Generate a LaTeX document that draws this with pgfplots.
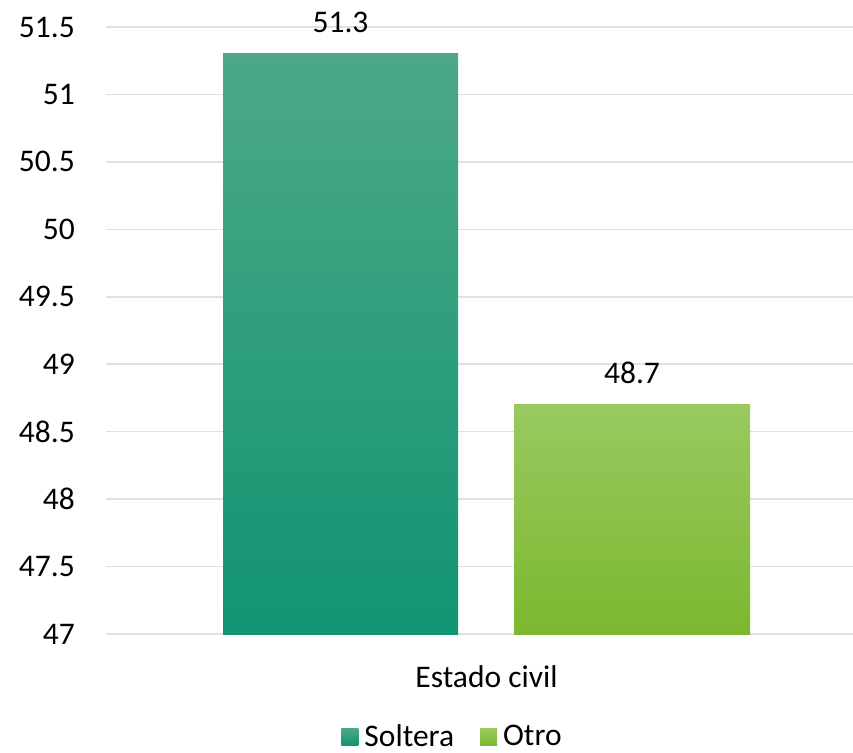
\documentclass[border=0pt]{standalone}
\usepackage{pgfplots}
\pgfplotsset{compat=1.18}
\usepackage{fontspec}
\setmainfont{Carlito}
\definecolor{sTop}{HTML}{4CA887}
\definecolor{sBot}{HTML}{119472}
\definecolor{oTop}{HTML}{99C960}
\definecolor{oBot}{HTML}{7CB82F}
\definecolor{gridc}{HTML}{DEE2E8}
\newcommand{\bigf}{\fontsize{31.5bp}{38bp}\selectfont}
\begin{document}
\begin{tikzpicture}[font=\bigf]
\begin{axis}[
  scale only axis,
  width=747bp, height=607bp,
  xmin=0, xmax=747,
  ymin=47, ymax=51.5,
  ytick={47,47.5,...,51.5},
  yticklabels={47,47.5,48,48.5,49,49.5,50,50.5,51,51.5},
  xtick={380.5},
  xticklabels={Estado civil},
  axis line style={draw=none},
  major tick length=0pt,
  ymajorgrids,
  grid style={gridc, line width=1.5bp},
  tick label style={font=\bigf, text=black},
  /pgf/number format/assume math mode=true,
  yticklabel style={inner sep=0pt, anchor=east, xshift=-31bp},
  xticklabel style={inner sep=0pt, anchor=center, yshift=-43bp},
  nodes near coords,
  every node near coord/.append style={font=\bigf, inner sep=0pt, anchor=south, yshift=21bp, text=black},
  point meta=explicit symbolic,
  legend columns=2,
  legend style={draw=none, fill=none, font=\bigf,
    at={(rel axis cs:0.4666,-0.1685)}, anchor=center,
    nodes={inner xsep=6bp, inner ysep=0pt},
    /tikz/every even column/.append style={column sep=20bp}},
  clip=false,
]
\addplot[ybar, bar shift=0pt, bar width=235, draw=none, top color=sTop, bottom color=sBot,
  legend image code/.code={\shade[top color=sTop, bottom color=sBot] (0bp,-9bp) rectangle (17bp,8bp);}]
  coordinates {(234.5,51.3) [51.3]};
\addlegendentry{Soltera}
\addplot[ybar, bar shift=0pt, bar width=236, draw=none, top color=oTop, bottom color=oBot,
  legend image code/.code={\shade[top color=oTop, bottom color=oBot] (0bp,-9bp) rectangle (17bp,8bp);}]
  coordinates {(526,48.7) [48.7]};
\addlegendentry{Otro}
\coordinate (bl) at (rel axis cs:0,0);
\coordinate (tr) at (rel axis cs:1,1);
\end{axis}
\pgfresetboundingbox
\path[use as bounding box] ([shift={(-106bp,-119bp)}]bl) rectangle ([shift={(0bp,27bp)}]tr);
\end{tikzpicture}
\end{document}
